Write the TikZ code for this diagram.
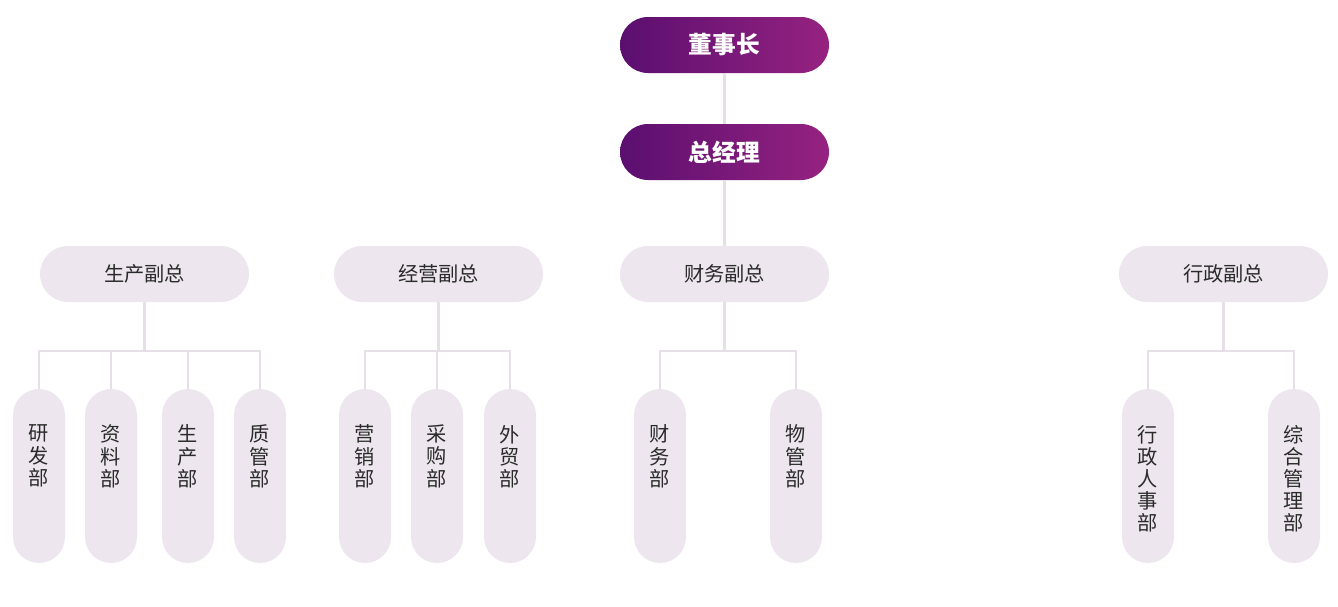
\documentclass[tikz,border=0pt]{standalone}
\usepackage{fontspec}
\usepackage{tikz}
\newfontfamily\cjk{Noto Sans CJK SC}

\definecolor{pillbg}{HTML}{EDE6EF}
\definecolor{linkc}{HTML}{E6DFE8}
\definecolor{txt}{HTML}{2A2A2A}
\definecolor{topl}{RGB}{90,15,112}
\definecolor{topr}{RGB}{150,34,128}

\newcommand{\deptcol}[1]{\parbox[c][3.48cm][t]{1.04cm}{\centering\vspace*{0.72cm}#1}}

\begin{document}
\begin{tikzpicture}[
    chief/.style={rectangle, rounded corners=0.56cm, minimum width=4.18cm, minimum height=1.12cm,
      left color=topl, right color=topr, text=white, font=\cjk\bfseries\fontsize{13.5}{16}\selectfont},
    vicebox/.style={rectangle, rounded corners=0.56cm, minimum width=4.18cm, minimum height=1.12cm,
      fill=pillbg, text=txt, font=\cjk\fontsize{11.5}{14}\selectfont},
    deptbox/.style={rectangle, rounded corners=0.52cm, inner sep=0pt, fill=pillbg, text=txt,
      font=\cjk\fontsize{11.5}{12.6}\selectfont},
    link/.style={draw=linkc, line width=1.3pt}]
    \useasboundingbox (0,0) rectangle (26.76,-12.12);

    \node (ceo) at (14.49,-0.9) [chief] {董事长};
    \node (gm) at (14.49,-3.04) [chief] {总经理};

    \node (v1) at (2.89,-5.48) [vicebox] {生产副总};
    \node (v2) at (8.77,-5.48) [vicebox] {经营副总};
    \node (v3) at (14.49,-5.48) [vicebox] {财务副总};
    \node (v4) at (24.47,-5.48) [vicebox] {行政副总};

    \node (d1) at (0.78,-9.52) [deptbox] {\deptcol{研\\发\\部}};
    \node (d2) at (2.22,-9.52) [deptbox] {\deptcol{资\\料\\部}};
    \node (d3) at (3.76,-9.52) [deptbox] {\deptcol{生\\产\\部}};
    \node (d4) at (5.2,-9.52) [deptbox] {\deptcol{质\\管\\部}};
    \node (d5) at (7.3,-9.52) [deptbox] {\deptcol{营\\销\\部}};
    \node (d6) at (8.74,-9.52) [deptbox] {\deptcol{采\\购\\部}};
    \node (d7) at (10.2,-9.52) [deptbox] {\deptcol{外\\贸\\部}};
    \node (d8) at (13.2,-9.52) [deptbox] {\deptcol{财\\务\\部}};
    \node (d9) at (15.92,-9.52) [deptbox] {\deptcol{物\\管\\部}};
    \node (d10) at (22.96,-9.52) [deptbox] {\deptcol{行\\政\\人\\事\\部}};
    \node (d11) at (25.88,-9.52) [deptbox] {\deptcol{综\\合\\管\\理\\部}};

    \draw[link] (ceo) -- (gm);
    \draw[link] (gm) -- (v3);

    \foreach \vp/\depts in {v1/{d1,d2,d3,d4}, v2/{d5,d6,d7}, v3/{d8,d9}, v4/{d10,d11}} {
      \foreach \dep in \depts {
        \draw[link] (\vp.south) -- ++(0,-0.98) -| (\dep.north);
      }
    }
\end{tikzpicture}
\end{document}
